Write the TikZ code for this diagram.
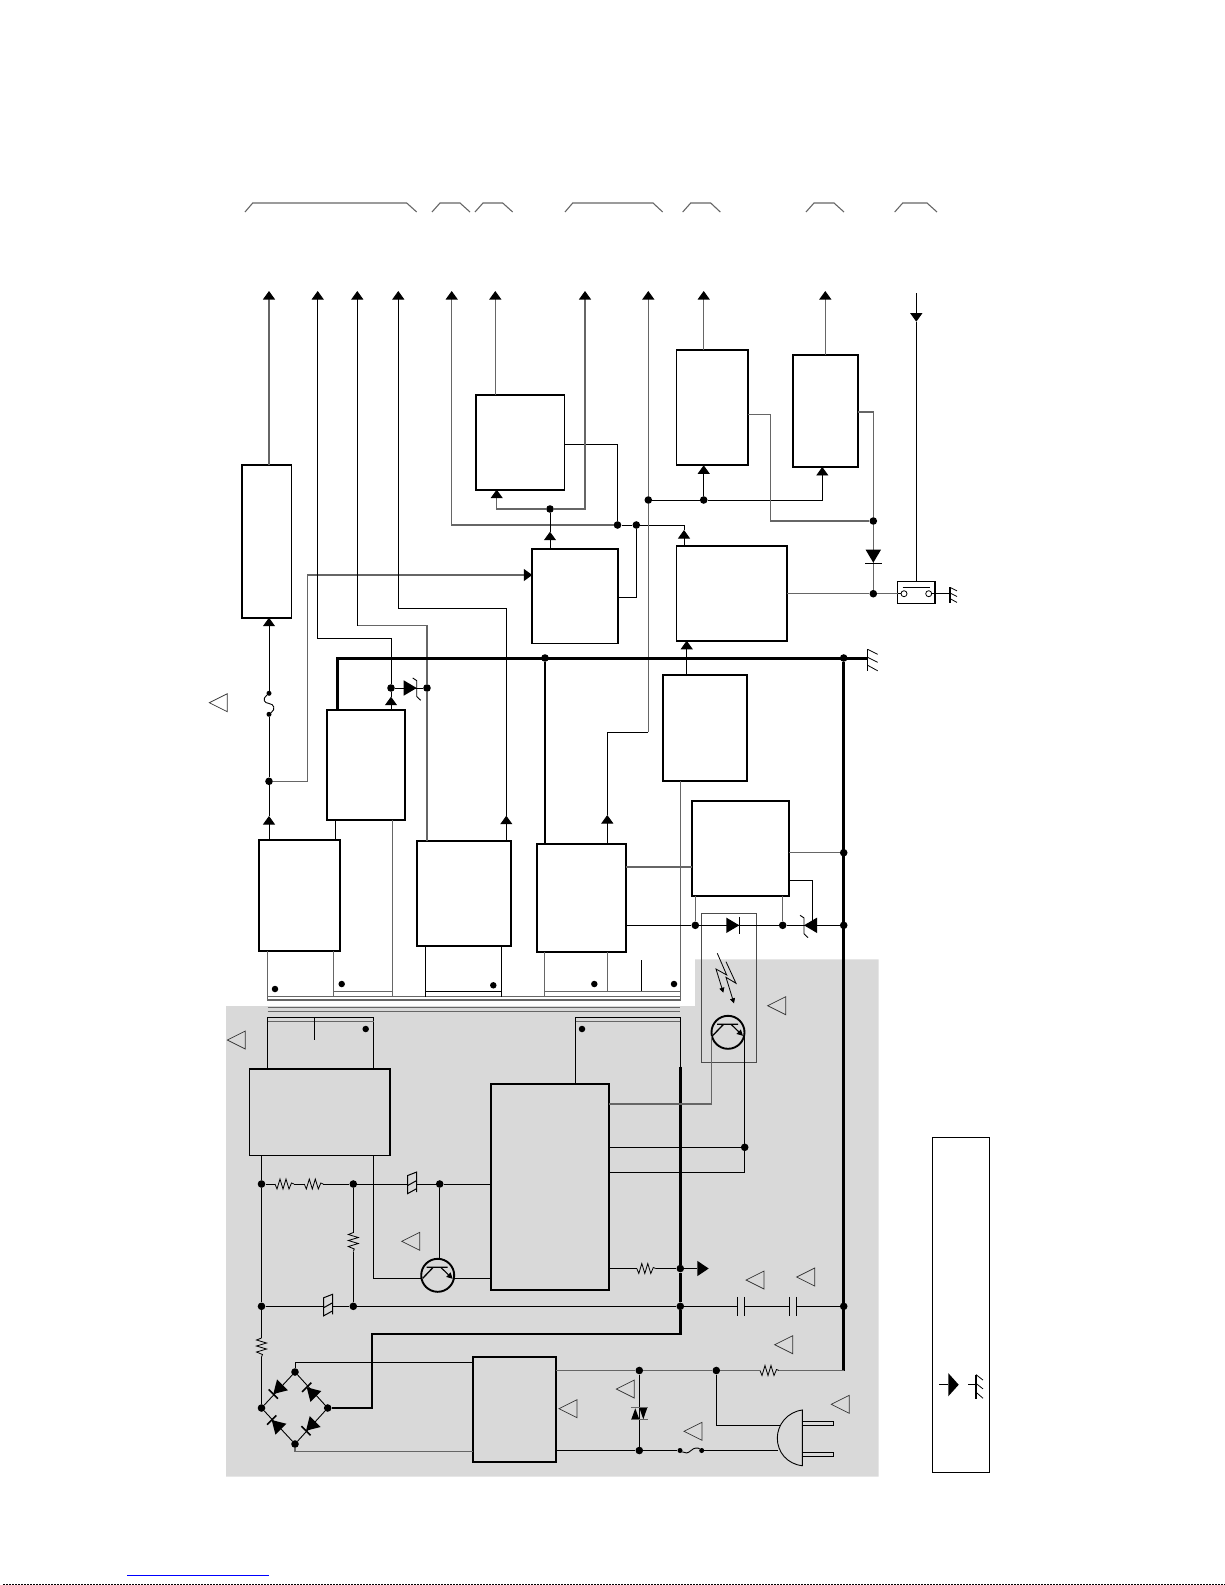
\documentclass[tikz,border=0pt]{standalone}
\usepackage{tikz}
\usepackage{xcolor}
\usetikzlibrary{arrows.meta}

\begin{document}
\begin{tikzpicture}[
      x=1pt, y=-1pt,
      block/.style={draw, line width=1.7pt, fill=white, inner sep=0pt, outer sep=0pt},
      hotblock/.style={draw, line width=1.7pt, inner sep=0pt, outer sep=0pt},
      thinbox/.style={draw, line width=1.1pt, inner sep=0pt, outer sep=0pt},
      junct/.style={circle, fill=black, inner sep=0pt, minimum size=7.6pt},
      smalljunct/.style={circle, fill=black, inner sep=0pt, minimum size=5pt},
      swcontact/.style={circle, draw, fill=white, line width=.8pt, inner sep=0pt, minimum size=6pt},
      wire/.style={line width=.9pt, black},
      gwire/.style={line width=1.1pt, black!60},
      bus/.style={line width=2.4pt, black},
      arrowtip/.style={-{Triangle[width=12pt,length=8.5pt,black]}},
      warn/.pic={\draw[line width=.7pt, black!80] (0,0) -- (18,-9) -- (18,9) -- cycle;},
      tri/.pic={\fill (0,0) -- (-13,-7.7) -- (-13,7.7) -- cycle;},
      dbar/.pic={\draw[line width=1pt] (0,-8.5) -- (0,8.5);},
      xbar/.pic={\draw[line width=1.5pt] (0,-6.5) -- (0,6.5);},
      zbar/.pic={\draw[line width=.9pt] (-4,-10) -- (0,-7.4) -- (0,8.5) -- (4,12.3);},
      res/.pic={
        \coordinate (-a) at (-9.5,0);
        \coordinate (-b) at (9.5,0);
        \draw[line width=.8pt] (-9.5,0) -- (-7.5,5) -- (-4.5,-5) -- (-1.5,5) -- (1.5,-5) -- (4.5,5) -- (7,-1) -- (9.5,0);
      },
      sgap/.pic={
        \coordinate (-a) at (-4.5,0);
        \coordinate (-b) at (4.5,0);
        \draw[line width=1pt] (-4.5,-9) -- (-4.5,9.6) -- (4.5,4.6) (-4.5,1.5) -- (4.5,-3.5) (-4.5,-8.5) -- (4.5,-12) -- (4.5,8);
      },
      capa/.pic={
        \coordinate (-a) at (-3.7,0);
        \coordinate (-b) at (3.7,0);
        \draw[line width=.8pt] (-3.7,-9.5) -- (-3.7,9.5) (3.7,-9.5) -- (3.7,9.5);
      },
      npn/.pic={
        \coordinate (-l) at (-16.5,3.5);
        \coordinate (-r) at (16.5,3.5);
        \coordinate (-t) at (0,-16.5);
        \draw[line width=1.9pt] (0,0) circle (16.5);
        \draw[line width=1.3pt] (-11,-8) -- (10,-8) (-4.5,-8) -- (-15,3);
        \draw[line width=1.1pt, -{Triangle[width=6pt,length=6pt]}] (3,-8) -- (15,3.5);
      },
      gnd/.pic={
        \draw[line width=1.2pt] (0,-9) -- (0,13);
        \draw[line width=.8pt] (0,-9) -- (10,-4) (0,-1) -- (10,4) (0,7) -- (10,12.5);
      }
    ]
  \useasboundingbox (0,0) rectangle (1225,1585);

  % isolated side
  \fill[black!15] (226,1006) -- (695,1006) -- (695,959.3) -- (878.7,959.3) -- (878.7,1476.7) -- (226,1476.7) -- cycle;

  % signal ends along the top
  \coordinate (ta) at (269,291);
  \coordinate (tb) at (317.7,291);
  \coordinate (tc) at (357.3,291);
  \coordinate (td) at (398.3,291);
  \coordinate (te) at (451.7,291);
  \coordinate (tf) at (495.3,291);
  \coordinate (tg) at (585,291);
  \coordinate (th) at (648.3,291);
  \coordinate (ti) at (703.7,291);
  \coordinate (tj) at (825.3,291);
  \coordinate (tk) at (916.3,293);

  % connector brackets
  \draw[gwire] (245,212) -- (252.7,203) -- (406.7,203) -- (416.7,212);
  \draw[gwire] (432,212) -- (440,203) -- (460,203) -- (470,212);
  \draw[gwire] (475,212) -- (483,203) -- (502.7,203) -- (512.7,212);
  \draw[gwire] (565,212) -- (572.7,203) -- (653,203) -- (662.7,212);
  \draw[gwire] (682.7,212) -- (690.7,203) -- (710.7,203) -- (720.3,212);
  \draw[gwire] (806,212) -- (814,203) -- (834,203) -- (844,212);
  \draw[gwire] (894.7,212) -- (902.7,203) -- (927,203) -- (937,212);

  % blocks
  \node[block, minimum width=49.3pt, minimum height=152.4pt] (barbox) at (266.7,541.5) {};
  \node[block, minimum width=88.3pt, minimum height=94.7pt] (chopa) at (520.2,442.3) {};
  \node[block, minimum width=86pt, minimum height=94.3pt] (regc) at (575.3,596.2) {};
  \node[block, minimum width=71.7pt, minimum height=115.6pt] (regd) at (712.2,407.5) {};
  \node[block, minimum width=65pt, minimum height=112.3pt] (rege) at (825.8,410.8) {};
  \node[block, minimum width=110.7pt, minimum height=94.7pt] (ctrl) at (731.7,593.4) {};
  \node[thinbox, minimum width=37.3pt, minimum height=22.4pt] (sw) at (916.3,592.5) {};
  \node[block, minimum width=78pt, minimum height=110pt] (reghv) at (366,764.7) {};
  \node[block, minimum width=81pt, minimum height=111pt] (rectb) at (299.8,895.5) {};
  \node[block, minimum width=94.6pt, minimum height=104.4pt] (rectc) at (464,893.5) {};
  \node[block, minimum width=88.4pt, minimum height=107.4pt] (rectd) at (581.5,898) {};
  \node[block, minimum width=84pt, minimum height=106.6pt] (regf) at (705.3,728) {};
  \node[block, minimum width=97.6pt, minimum height=94.7pt] (errbox) at (740.5,848.3) {};
  \node[hotblock, minimum width=140.7pt, minimum height=86.3pt] (snub) at (319.7,1112.2) {};
  \node[hotblock, minimum width=118pt, minimum height=205.7pt] (pwm) at (550,1186.9) {};
  \node[hotblock, minimum width=83pt, minimum height=105.3pt] (emi) at (514.2,1409.3) {};
  \node[thinbox, minimum width=56.7pt, minimum height=335pt] (legend) at (960.7,1304.8) {};
  \node[thinbox, black!70, minimum width=54.7pt, minimum height=148.6pt] (opto) at (728.7,988) {};

  % junctions
  \node[junct] (jfuse) at (269,781.3) {};
  \node[junct] (jza) at (391,688) {};
  \node[junct] (jzb) at (427,688) {};
  \node[junct] (ja) at (550,509) {};
  \node[junct] (jb) at (617.5,525) {};
  \node[junct] (jc) at (636.3,525) {};
  \node[junct] (jd) at (648.3,500) {};
  \node[junct] (je) at (703.7,500) {};
  \node[junct] (jf) at (873.3,521) {};
  \node[junct] (jg) at (873.3,593.7) {};
  \node[junct] (jbusa) at (545,658) {};
  \node[junct] (jbusb) at (843.7,658) {};
  \node[junct] (jsa) at (695.3,925.3) {};
  \node[junct] (jsb) at (782.7,925.3) {};
  \node[junct] (jsc) at (843.7,925.3) {};
  \node[junct] (jsd) at (843.7,852.7) {};
  \node[junct] (jpa) at (261.5,1184) {};
  \node[junct] (jpb) at (353.3,1184) {};
  \node[junct] (jpc) at (439.7,1184) {};
  \node[junct] (jpd) at (261.5,1306.3) {};
  \node[junct] (jpe) at (353.3,1306.3) {};
  \node[junct] (jpf) at (680.3,1268.5) {};
  \node[junct] (jpg) at (680.3,1306.3) {};
  \node[junct] (jph) at (843.7,1306.3) {};
  \node[junct] (jpi) at (744.7,1147.3) {};
  \node[junct] (bt) at (295,1372) {};
  \node[junct] (bl) at (261.5,1408) {};
  \node[junct] (br) at (327.7,1408) {};
  \node[junct] (bb) at (295,1444) {};
  \node[junct] (jm) at (639.3,1370.5) {};
  \node[junct] (jo) at (716.3,1370.5) {};
  \node[junct] (jq) at (639.3,1450.5) {};
  \node[smalljunct] (ffa) at (269,714.3) {};
  \node[smalljunct] (ffb) at (269,693.3) {};
  \node[smalljunct] (fsa) at (680,1450.5) {};
  \node[smalljunct] (fsb) at (701.7,1450.5) {};
  \node[swcontact] (swa) at (904,593.7) {};
  \node[swcontact] (swb) at (928.7,593.7) {};

  % winding marks
  \node[junct, minimum size=6.5pt] (wa) at (275,989) {};
  \node[junct, minimum size=6.5pt] (wb) at (341.7,984) {};
  \node[junct, minimum size=6.5pt] (wc) at (493.3,985.3) {};
  \node[junct, minimum size=6.5pt] (wd) at (594.3,984) {};
  \node[junct, minimum size=6.5pt] (we) at (674,984) {};
  \node[junct, minimum size=6.5pt] (wf) at (365.7,1029) {};
  \node[junct, minimum size=6.5pt] (wg) at (582,1029) {};

  % parts that break a wire
  \pic (ra) at (284.5,1184) {res};
  \pic (rb) at (313.8,1184) {res};
  \pic (rc) [rotate=270] at (261.5,1347.5) {res};
  \pic (rd) [rotate=270] at (353.3,1242) {res};
  \pic (re) at (646.3,1268.5) {res};
  \pic (rf) at (769.5,1370.5) {res};
  \pic (ga) at (412.2,1184) {sgap};
  \pic (gb) at (328,1306.3) {sgap};
  \pic (ca) at (741,1306.3) {capa};
  \pic (cb) at (792.8,1306.3) {capa};
  \pic (qa) at (728,1032.3) {npn};
  \pic (qb) at (437.7,1275.3) {npn};
  \coordinate (plugt) at (781,1425.3);
  \coordinate (plugb) at (778.3,1450.5);

  % top arrows and the blocks feeding them
  \draw[gwire, arrowtip] (barbox.north -| ta) -- (ta);
  \draw[wire, arrowtip] (rectb.north -| ta) -- (269,816);
  \draw[wire] (269,816) -- (jfuse) -- (ffa);
  \draw[wire] (ffa) .. controls (276,709) and (274,704) .. (269,703.5) .. controls (264,703) and (262,699) .. (ffb);
  \draw[wire, arrowtip] (ffb) -- (barbox.south -| ta);
  \draw[gwire, arrowtip] (jfuse) -| (307.7,575) -- (regc.west |- 0,575);
  \draw[wire, arrowtip] (reghv.north -| jza) -- (391,696.7);
  \draw[wire] (391,696.7) -- (jza);
  \draw[wire, arrowtip] (jza) |- (tb |- 0,638.3) -- (tb);
  \draw[wire] (jza) -- (jzb);
  \pic at (416.7,688) {tri};
  \pic at (416.7,688) {zbar};
  \draw[gwire] (rectc.north -| jzb) -- (jzb) |- (tc |- 0,625.7);
  \draw[wire, arrowtip] (tc |- 0,625.7) -- (tc);
  \draw[wire, arrowtip] (rectc.north -| 506.3,0) -- (506.3,815.7);
  \draw[wire, arrowtip] (506.3,815.7) |- (td |- 0,608.3) -- (td);
  \draw[wire, arrowtip] (ctrl.north -| 684,0) -- (684,530);
  \draw[wire] (684,530) |- (jc) -- (jb);
  \draw[gwire, arrowtip] (jb) -- (te |- jb) -- (te);
  \draw[wire] (regc.east |- 0,597.3) -| (jc);
  \draw[wire] (chopa.east |- 0,444.3) -| (jb);
  \draw[gwire, arrowtip] (ja) -| (chopa.south -| 496.7,0);
  \draw[gwire, arrowtip] (ja) -| (tg);
  \draw[wire, arrowtip] (regc.north -| ja) -- (550,531.7);
  \draw[wire] (550,531.7) -- (ja);
  \draw[gwire, arrowtip] (chopa.north -| tf) -- (tf);
  \draw[wire, arrowtip] (rectd.north -| 607.3,0) -- (607.3,815);
  \draw[wire] (607.3,815) |- (th |- 0,732.3);
  \draw[gwire, arrowtip] (th |- 0,732.3) -- (jd) -- (th);
  \draw[wire] (jd) -- (je);
  \draw[wire, arrowtip] (je) -| (rege.south -| 822.3,0);
  \draw[wire, arrowtip] (je) -- (regd.south -| je);
  \draw[gwire, arrowtip] (regd.north -| ti) -- (ti);
  \draw[gwire, arrowtip] (rege.north -| tj) -- (tj);
  \draw[gwire] (regd.east |- 0,414.7) -- (770.7,414.7) |- (jf);
  \draw[gwire] (rege.east |- 0,412) -| (jf) -- (jg);
  \pic [rotate=270] at (873.3,562.7) {tri};
  \pic [rotate=270] at (873.3,563.3) {dbar};
  \draw[gwire] (ctrl.east |- jg) -- (jg) -- (sw.west |- jg);
  \draw[wire] (sw.west |- jg) -- (swa);
  \draw[wire] (swb) -- (950,593.7);
  \draw[wire] (902.7,587.3) -- (930,587.3);
  \pic [scale=.7] at (950,593.7) {gnd};
  \draw[wire, arrowtip] (tk) -- (916.3,321.7);
  \draw[wire] (916.3,321.7) -- (sw.north -| tk);
  \draw[wire, arrowtip] (regf.north -| 686.7,0) -- (ctrl.south -| 686.7,0);

  % return bus
  \draw[bus] (reghv.north -| 337.3,0) |- (867.7,658.3);
  \draw[bus] (jbusa) -- (rectd.north -| jbusa);
  \draw[bus, line width=2.8pt] (jbusb) -- (843.7,1370.5);
  \pic at (867.7,658.3) {gnd};

  % transformer
  \draw[gwire] (regf.south -| 680.3,0) -- (680.3,1000) -- (267.7,1000) -- (267.7,996.7) -- (680.3,996.7);
  \draw[gwire] (267.7,1007.7) -- (680.3,1007.7);
  \draw[gwire] (267.7,1011.7) -- (680.3,1011.7);
  \draw[gwire] (rectb.south -| 267.7,0) -- (267.7,996.7);
  \draw[gwire] (rectb.south -| 333.7,0) -- (333.7,996.7);
  \draw[gwire] (333.7,991.3) -- (392.3,991.3);
  \draw[gwire] (reghv.south -| 392.3,0) -- (392.3,996.7);
  \draw[wire] (reghv.south -| 335.3,0) -- (rectb.north -| 335.3,0);
  \draw[wire] (rectc.south -| 425.7,0) -- (425.7,996.7);
  \draw[wire] (rectc.south -| 501.7,0) -- (501.7,996.7);
  \draw[wire] (425.7,991.3) -- (501.7,991.3);
  \draw[gwire] (rectd.south -| 544.3,0) -- (544.3,996.7);
  \draw[gwire] (rectd.south -| 607.3,0) -- (607.3,991.3);
  \draw[gwire] (544.3,991.3) -- (680.3,991.3);
  \draw[wire] (641.7,960) -- (641.7,991.3);
  \draw[wire] (snub.north -| 267.7,0) |- (373.7,1017.3) -- (snub.north -| 373.7,0);
  \draw[gwire] (267.7,1021.3) -- (373.7,1021.3);
  \draw[wire] (314.7,1017.3) -- (314.7,1040);
  \draw[wire] (pwm.north -| 575.7,0) |- (680.3,1017.3) -- (680.3,1066.7);
  \draw[gwire] (575.7,1021.3) -- (680.3,1021.3);
  \draw[bus] (680.3,1066.7) -- (jpf) -- (jpg) -- (680.3,1334) -| (372,1408) -- (br);

  % error amplifier and opto coupler
  \draw[wire] (rectd.east |- jsa) -- (jsa) -- (jsb) -- (jsc);
  \draw[gwire] (errbox.south -| jsa) -- (jsa);
  \draw[gwire] (errbox.south -| jsb) -- (jsb);
  \pic at (739.3,925.3) {tri};
  \pic at (739.3,925.3) {dbar};
  \pic [rotate=180] at (804,925.3) {tri};
  \pic at (804,925.3) {zbar};
  \draw[gwire] (rectd.east |- 0,867) -- (errbox.west |- 0,867);
  \draw[gwire] (errbox.east |- jsd) -- (jsd);
  \draw[wire] (errbox.east |- 0,880.3) -| (812.3,925.3);
  \draw[line width=.8pt, -{Triangle[width=5pt,length=5pt]}] (717.3,953.3) -- (726.7,975) -- (716,969) -- (723.3,992.7);
  \draw[line width=.8pt, -{Triangle[width=5pt,length=5pt]}] (726,961.7) -- (736,983.3) -- (726,977.3) -- (734,1003.3);
  \draw[gwire] (pwm.east |- 0,1104) -| (qa-l);
  \draw[wire] (qa-r) |- (pwm.east |- 0,1172);
  \draw[wire] (pwm.east |- jpi) -- (jpi);

  % primary side
  \draw[wire] (snub.south -| jpa) -- (jpa) -- (jpd) -- (rc-a);
  \draw[wire] (rc-b) -- (bl);
  \draw[wire] (jpa) -- (ra-a);
  \draw[wire] (ra-b) -- (rb-a);
  \draw[wire] (rb-b) -- (jpb) -- (ga-a);
  \draw[wire] (ga-b) -- (jpc) -- (pwm.west |- jpc);
  \draw[wire] (jpc) -- (jpc |- qb-t);
  \draw[wire] (jpb) -- (rd-a);
  \draw[wire] (rd-b) -- (jpe);
  \draw[wire] (jpd) -- (gb-a);
  \draw[wire] (gb-b) -- (jpe) -- (jpg) -- (ca-a);
  \draw[wire] (ca-b) -- (cb-a);
  \draw[wire] (cb-b) -- (jph);
  \draw[wire] (snub.south -| 373.7,0) |- (qb-l);
  \draw[wire] (qb-r) -- (pwm.west |- qb-r);
  \draw[wire] (pwm.east |- jpf) -- (re-a);
  \draw[wire] (re-b) -- (jpf) -- (697.3,1268.5);
  \pic [xscale=.88] at (708.7,1268.5) {tri};

  % bridge
  \draw[wire] (bt) -- (bl) -- (bb) -- (br) -- (bt);
  \pic [rotate=225] at (273.3,1394) {tri};
  \pic [rotate=225] at (273.3,1394) {xbar};
  \pic [rotate=135] at (306.7,1387.3) {tri};
  \pic [rotate=135] at (306.7,1387.3) {xbar};
  \pic [rotate=225] at (306,1430.7) {tri};
  \pic [rotate=225] at (306,1430.7) {xbar};
  \pic [rotate=135] at (271.7,1420) {tri};
  \pic [rotate=135] at (271.7,1420) {xbar};
  \draw[wire] (emi.west |- 0,1362.7) -| (bt);
  \draw[gwire] (emi.west |- 0,1451.7) -| (bb);

  % mains input
  \draw[gwire] (emi.east |- jm) -- (jm) -- (jo) -- (rf-a);
  \draw[gwire] (rf-b) -- (843.7,1370.5);
  \draw[wire] (emi.east |- jq) -- (jq) -- (fsa);
  \draw[wire] (fsa) .. controls (685,1453.5) and (688,1453.5) .. (691,1450.5) .. controls (694,1447.5) and (698,1447.5) .. (fsb);
  \draw[wire] (fsb) -- (plugb);
  \draw[wire] (jm) -- (jq);
  \fill (631.3,1419.3) -- (639.3,1419.3) -- (635.3,1408.3) -- cycle;
  \fill (639.3,1407.7) -- (647.3,1407.7) -- (643.3,1419.3) -- cycle;
  \draw[gwire] (631,1407.7) -- (647.7,1407.7) (631,1419.3) -- (647.7,1419.3);
  \draw[wire] (jo) |- (plugt);
  \draw[wire] (802.3,1410) .. controls (787,1412) and (777.3,1425) .. (777.3,1438) .. controls (777.3,1452) and (787,1464) .. (802.3,1465.7) -- cycle;
  \draw[wire] (802.3,1421.3) -- (833.3,1421.3) -- (833.3,1425.3) -- (802.3,1425.3);
  \draw[wire] (802.3,1452.5) -- (833.3,1452.5) -- (833.3,1456.7) -- (802.3,1456.7);

  % safety marks
  \pic at (209.3,702.7) {warn};
  \pic at (227.3,1040) {warn};
  \pic at (767.7,1005.7) {warn};
  \pic at (401.7,1241.3) {warn};
  \pic at (746,1280) {warn};
  \pic at (796.7,1277) {warn};
  \pic at (774.7,1344.7) {warn};
  \pic at (831.3,1404.3) {warn};
  \pic at (616.3,1389) {warn};
  \pic at (684,1431.3) {warn};
  \pic at (559,1408.7) {warn};

  % legend
  \coordinate (lega) at (939,1384.5);
  \draw[wire] (lega) -- (948.3,1384.5);
  \pic [xscale=.8, yscale=1.5] at (958.7,1384.7) {tri};
  \coordinate (legb) at (968,1384.5);
  \draw[wire] (legb) -- (976,1384.5);
  \pic [xscale=.7, yscale=1.1] at (976,1384.5) {gnd};

  % page foot
  \draw[blue, line width=1pt] (127,1575.3) -- (269,1575.3);
  \draw[line width=1pt, dash pattern=on 1.5pt off 1.5pt] (3,1584.5) -- (1225,1584.5);
\end{tikzpicture}
\end{document}
